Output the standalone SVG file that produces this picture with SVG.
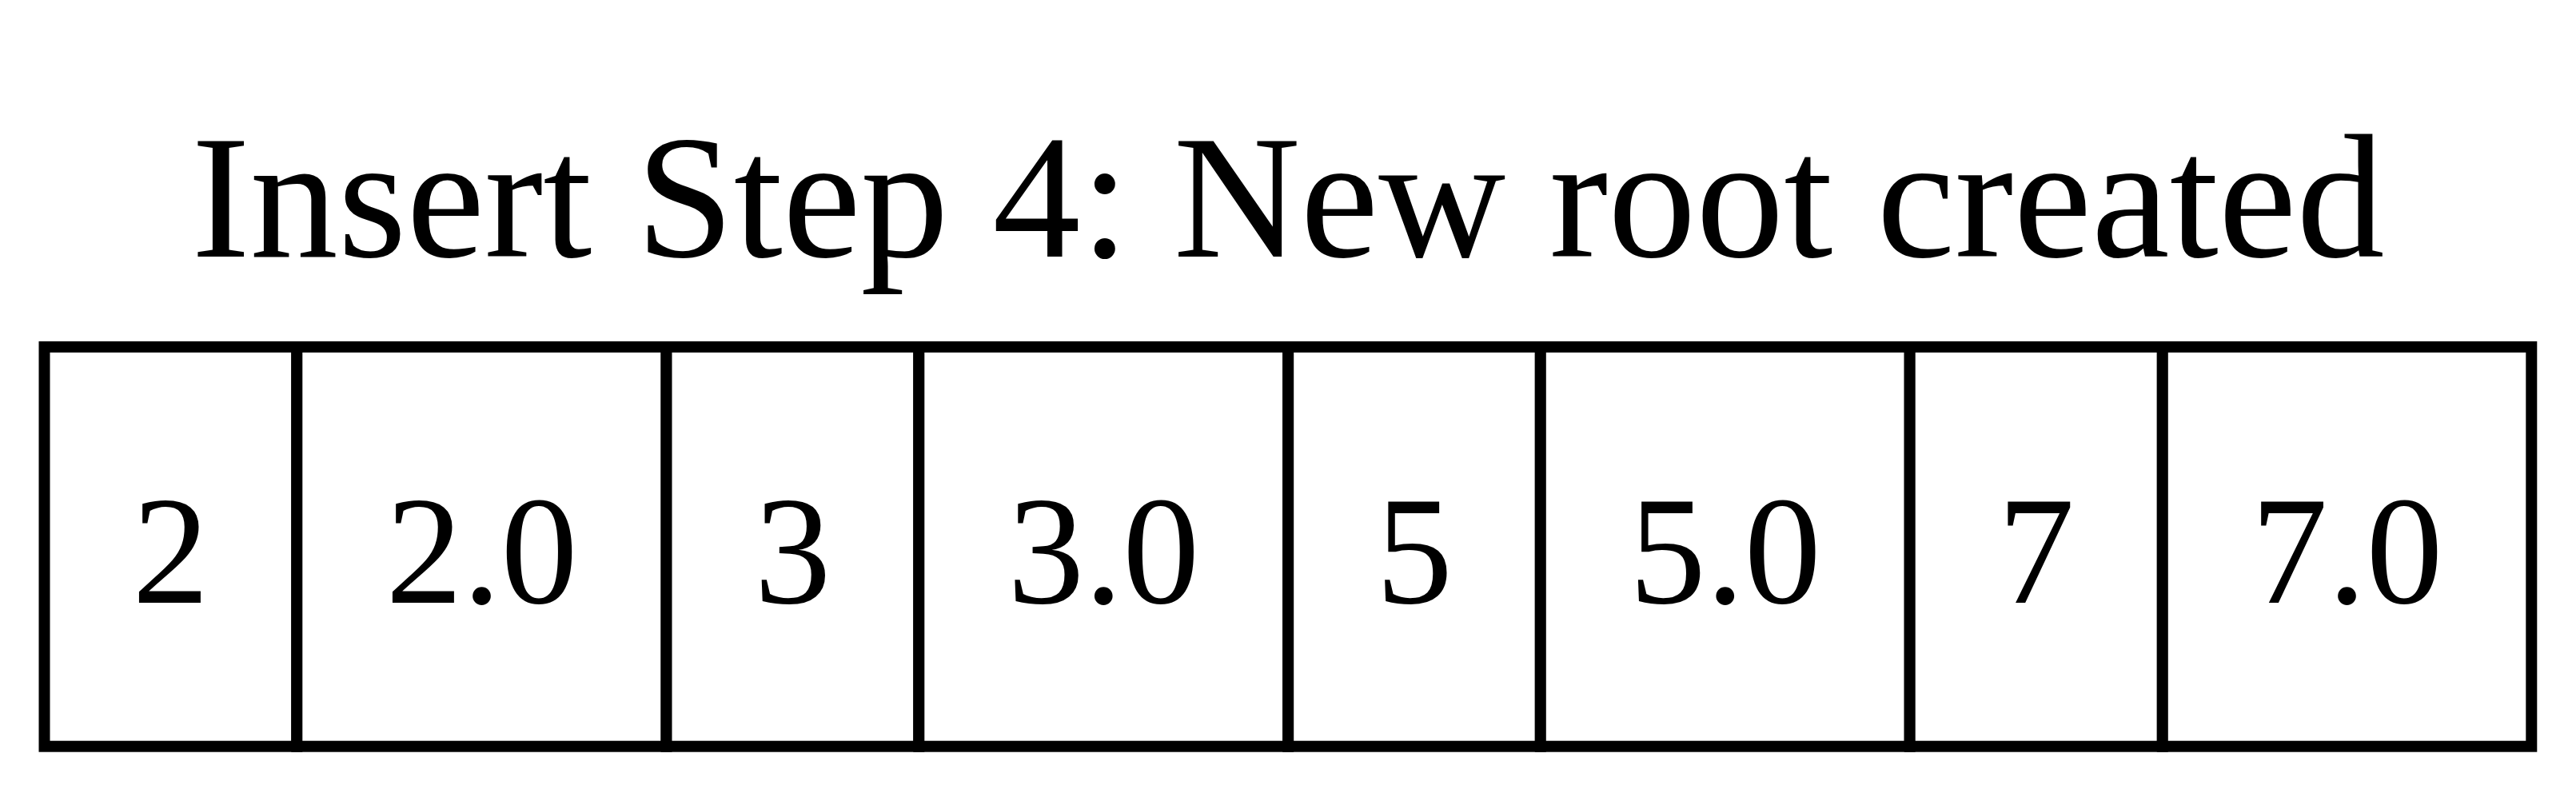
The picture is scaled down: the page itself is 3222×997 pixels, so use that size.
<svg xmlns="http://www.w3.org/2000/svg" width="3222" height="997" viewBox="0 0 3222 997">
<style>
text{font-family:'Liberation Serif',Tinos,'Times New Roman',Times,serif;fill:#000}
.title{font-size:220px;text-anchor:middle}
.v{font-size:192px;text-anchor:middle}
.cell{fill:#fff;stroke:#000;stroke-width:14}
</style>
<rect width="3222" height="997" fill="#fff"/>
<text id="title" class="title" x="1611" y="321">Insert Step 4: New root created</text>
<g id="node-0"><rect class="cell" x="55.5" y="434" width="315.8" height="499.7"/><text class="v" x="213.4" y="754">2</text></g>
<g id="node-1"><rect class="cell" x="371.3" y="434" width="462.2" height="499.7"/><text class="v" x="602.4" y="754">2.0</text></g>
<g id="node-2"><rect class="cell" x="833.5" y="434" width="315.8" height="499.7"/><text class="v" x="991.4" y="754">3</text></g>
<g id="node-3"><rect class="cell" x="1149.3" y="434" width="461.9" height="499.7"/><text class="v" x="1380.2" y="754">3.0</text></g>
<g id="node-4"><rect class="cell" x="1611.2" y="434" width="315.6" height="499.7"/><text class="v" x="1769" y="754">5</text></g>
<g id="node-5"><rect class="cell" x="1926.8" y="434" width="461.9" height="499.7"/><text class="v" x="2157.7" y="754">5.0</text></g>
<g id="node-6"><rect class="cell" x="2388.7" y="434" width="316.1" height="499.7"/><text class="v" x="2546.7" y="754">7</text></g>
<g id="node-7"><rect class="cell" x="2704.8" y="434" width="461.5" height="499.7"/><text class="v" x="2935.5" y="754">7.0</text></g>
<g id="connectors"></g>
</svg>
